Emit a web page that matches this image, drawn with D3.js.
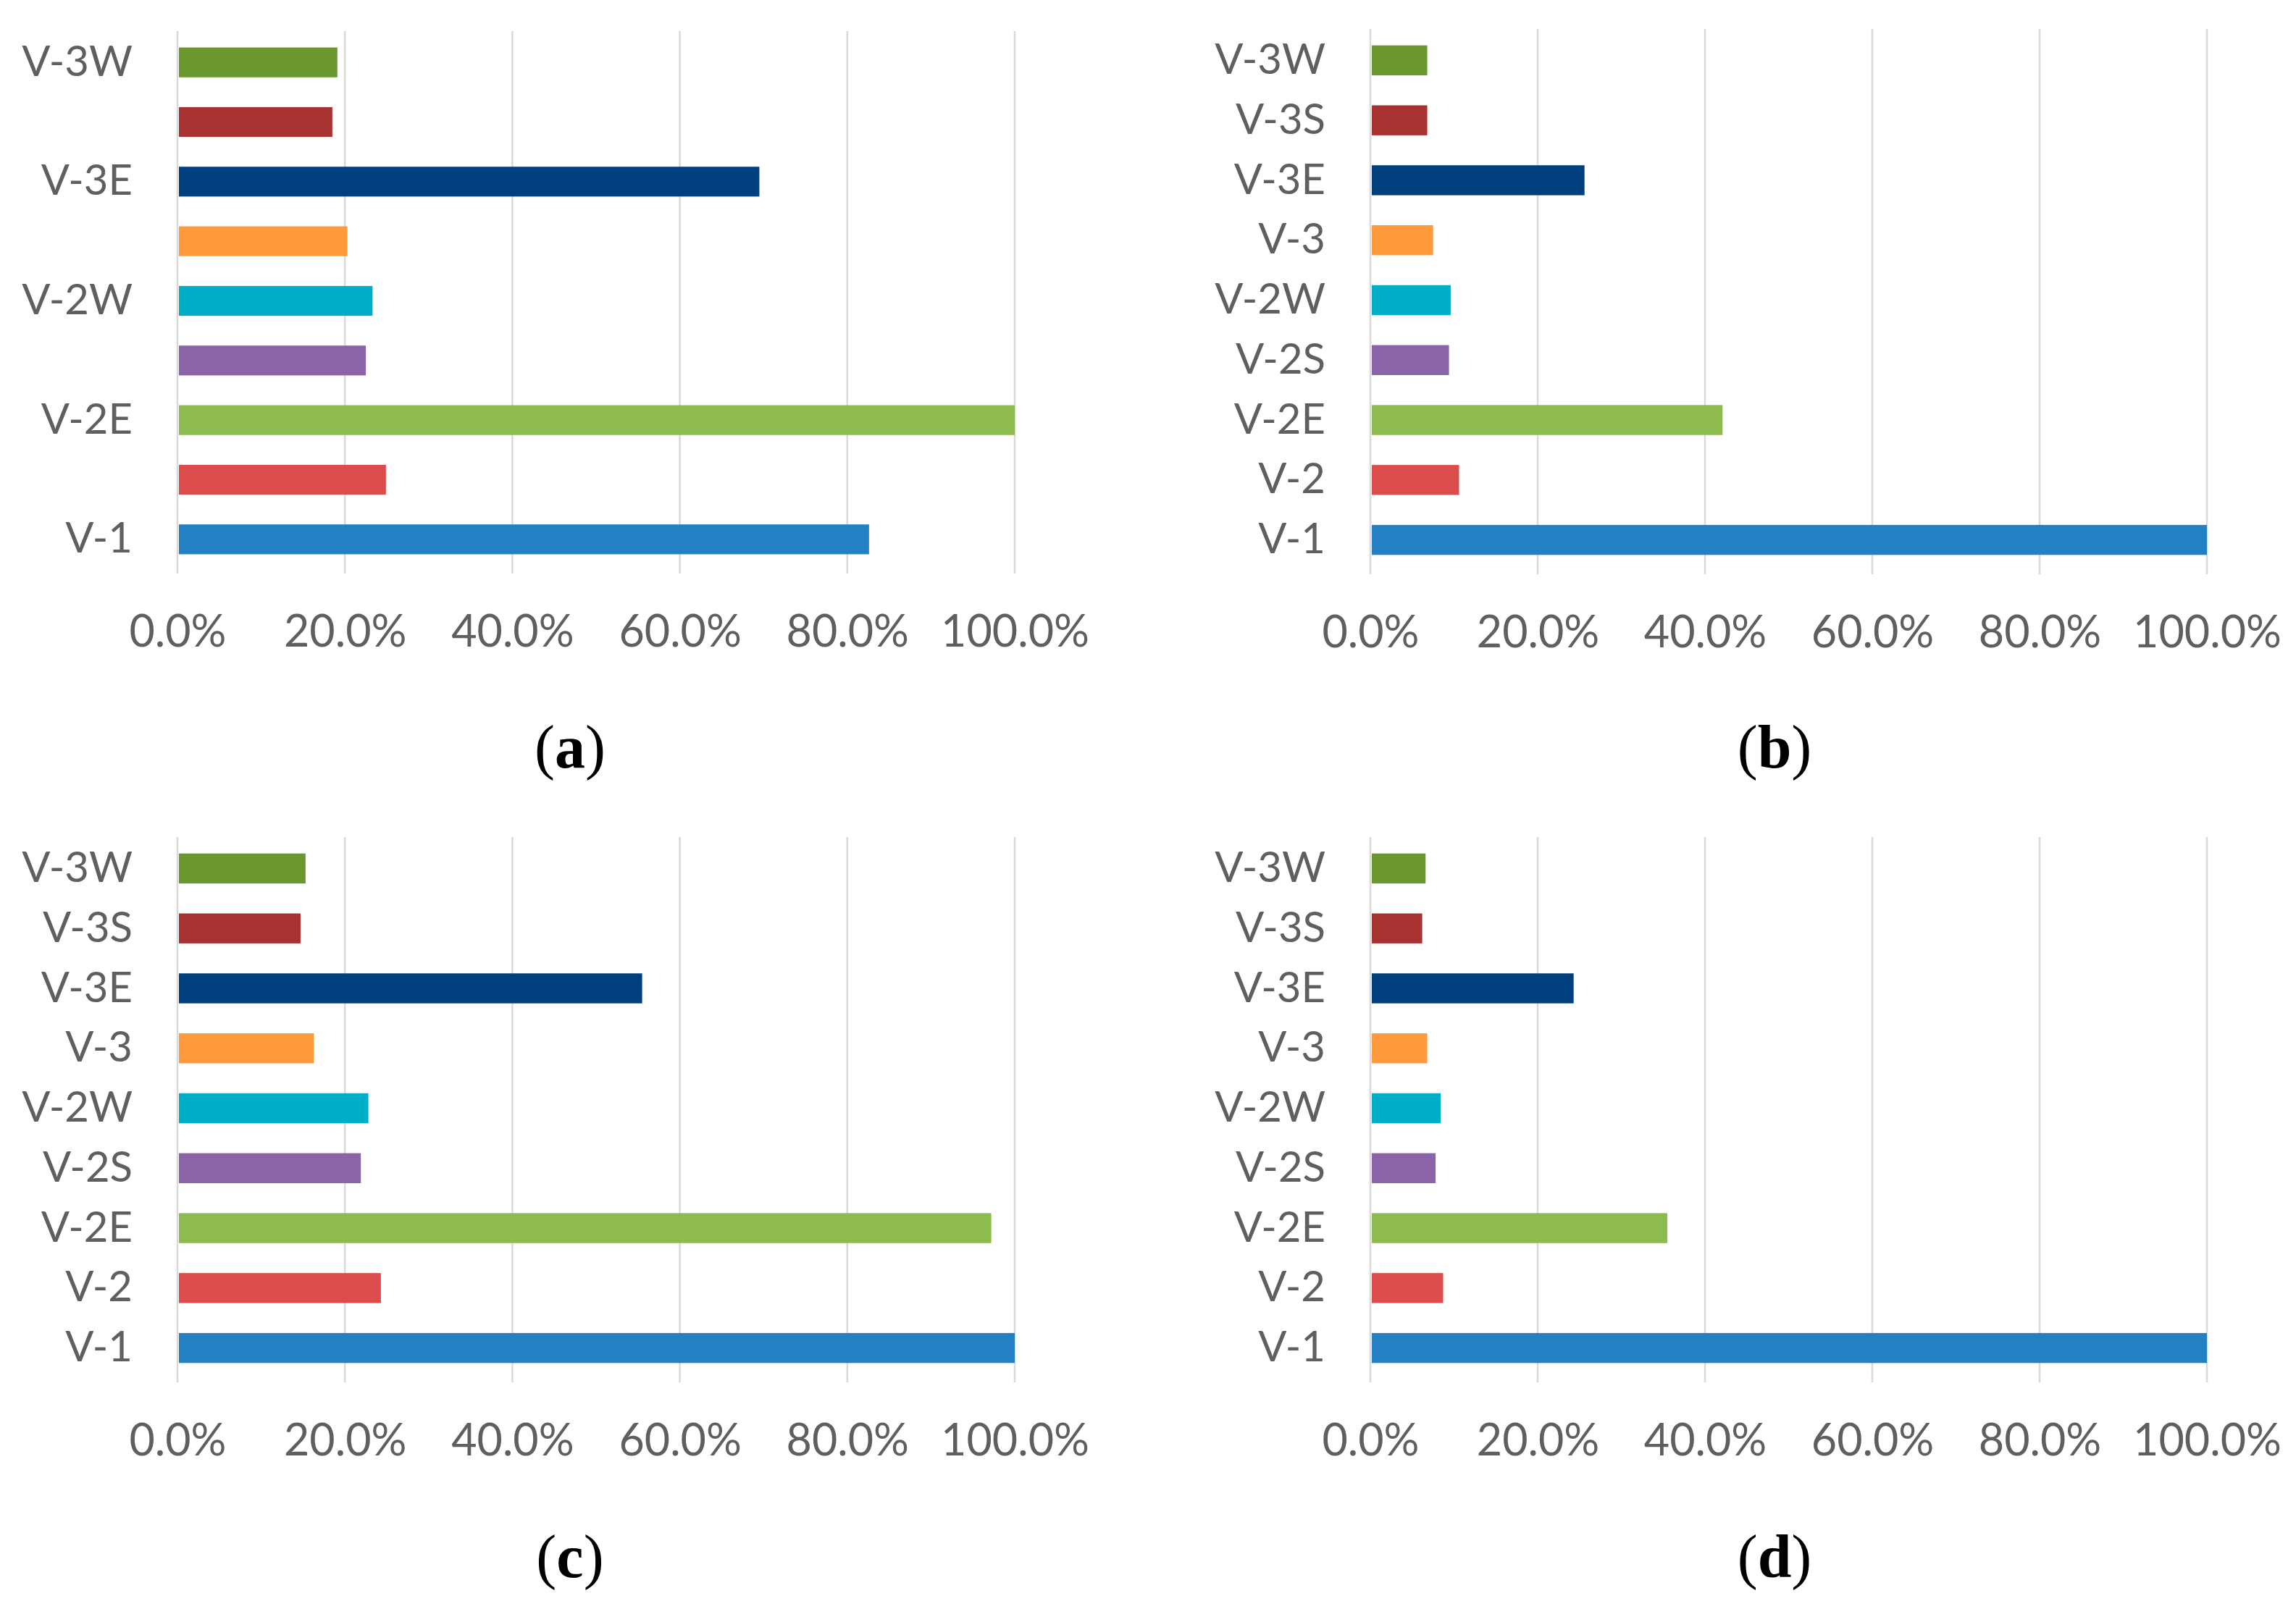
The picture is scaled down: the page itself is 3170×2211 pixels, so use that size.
<!DOCTYPE html>
<html>
<head>
<meta charset="utf-8">
<script src="https://cdn.jsdelivr.net/npm/d3@7"></script>
<style>
  body { margin: 0; background: #fff; }
  svg { display: block; }
  .tick text { fill: #5f5f5f; font-family: Lato, "Open Sans", sans-serif; }
</style>
</head>
<body>
<svg id="chart" width="3170" height="2211"></svg>
<script>
  // categories from bottom to top
  var categories = ["V-1", "V-2", "V-2E", "V-2S", "V-2W", "V-3", "V-3E", "V-3S", "V-3W"];
  var barColors = ["#2380c2", "#db4d4d", "#8dbb4e", "#8a63a8", "#00adc7", "#ff9a3c", "#003f7e", "#a83232", "#6a982f"];
  var xTicks = [0, 20, 40, 60, 80, 100];

  // values in %
  var valuesA = [82.6, 24.9, 100, 22.5, 23.3, 20.3, 69.5, 18.5, 19.1];
  var valuesB = [100, 10.6, 42.1, 9.4, 9.6, 7.5, 25.6, 6.8, 6.8];
  var valuesC = [100, 24.3, 97.2, 21.9, 22.8, 16.3, 55.5, 14.7, 15.3];
  var valuesD = [100, 8.7, 35.5, 7.8, 8.4, 6.8, 24.3, 6.2, 6.6];
  var captions = ["a", "b", "c", "d"];

  var svg = d3.select("#chart");

  var panels = [
    { values: valuesA, x0: 245, x1: 1401, y0: 45, y1: 786, capX: 787, capY: 1060, skipLabels: true },
    { values: valuesB, x0: 1892, x1: 3047, y0: 42, y1: 787, capX: 2450, capY: 1060, skipLabels: false },
    { values: valuesC, x0: 245, x1: 1401, y0: 1158, y1: 1903, capX: 787, capY: 2178, skipLabels: false },
    { values: valuesD, x0: 1892, x1: 3047, y0: 1158, y1: 1903, capX: 2450, capY: 2178, skipLabels: false }
  ];

  panels.forEach(function (p, i) {
    var g = svg.append("g");

    var x = d3.scaleLinear().domain([0, 100]).range([p.x0, p.x1]);
    var y = d3.scaleBand().domain(categories).range([p.y1, p.y0]).paddingInner(0.5).paddingOuter(0.25);

    // gridlines
    g.selectAll("line.grid")
      .data(xTicks)
      .enter().append("line")
      .attr("class", "grid")
      .attr("x1", function (d) { return x(d); })
      .attr("x2", function (d) { return x(d); })
      .attr("y1", p.y0 - 2)
      .attr("y2", p.y1 + 6)
      .attr("stroke", "#d9d9d9")
      .attr("stroke-width", 2.5);

    // bars
    g.selectAll("rect")
      .data(p.values)
      .enter().append("rect")
      .attr("x", x(0) + 2)
      .attr("y", function (d, j) { return y(categories[j]); })
      .attr("width", function (d) { return x(d) - x(0) - 2; })
      .attr("height", y.bandwidth())
      .attr("fill", function (d, j) { return barColors[j]; });

    // x axis
    var xAxis = d3.axisBottom(x)
      .tickValues(xTicks)
      .tickSize(0)
      .tickPadding(0)
      .tickFormat(function (t) { return d3.format(".1f")(t) + "%"; });
    var xg = g.append("g")
      .attr("transform", "translate(0," + (p.y1 + 64) + ")")
      .call(xAxis);
    xg.select(".domain").remove();
    xg.selectAll(".tick text").attr("font-size", 61).attr("dy", "0.71em");

    // y axis
    var yAxis = d3.axisLeft(y)
      .tickSize(0)
      .tickPadding(0)
      .tickFormat(function (c, j) { return (p.skipLabels && j % 2 === 1) ? "" : c; });
    var yg = g.append("g")
      .attr("transform", "translate(" + (p.x0 - 62) + ",0)")
      .call(yAxis);
    yg.select(".domain").remove();
    yg.selectAll(".tick text").attr("font-size", 58);

    // caption
    var cap = svg.append("text")
      .attr("x", p.capX)
      .attr("y", p.capY)
      .attr("text-anchor", "middle")
      .attr("font-family", "'Liberation Serif', 'Times New Roman', serif")
      .attr("font-size", 84)
      .attr("fill", "#000");
    cap.append("tspan").text("(");
    cap.append("tspan").attr("font-weight", "bold").text(captions[i]);
    cap.append("tspan").text(")");
  });
</script>
</body>
</html>
